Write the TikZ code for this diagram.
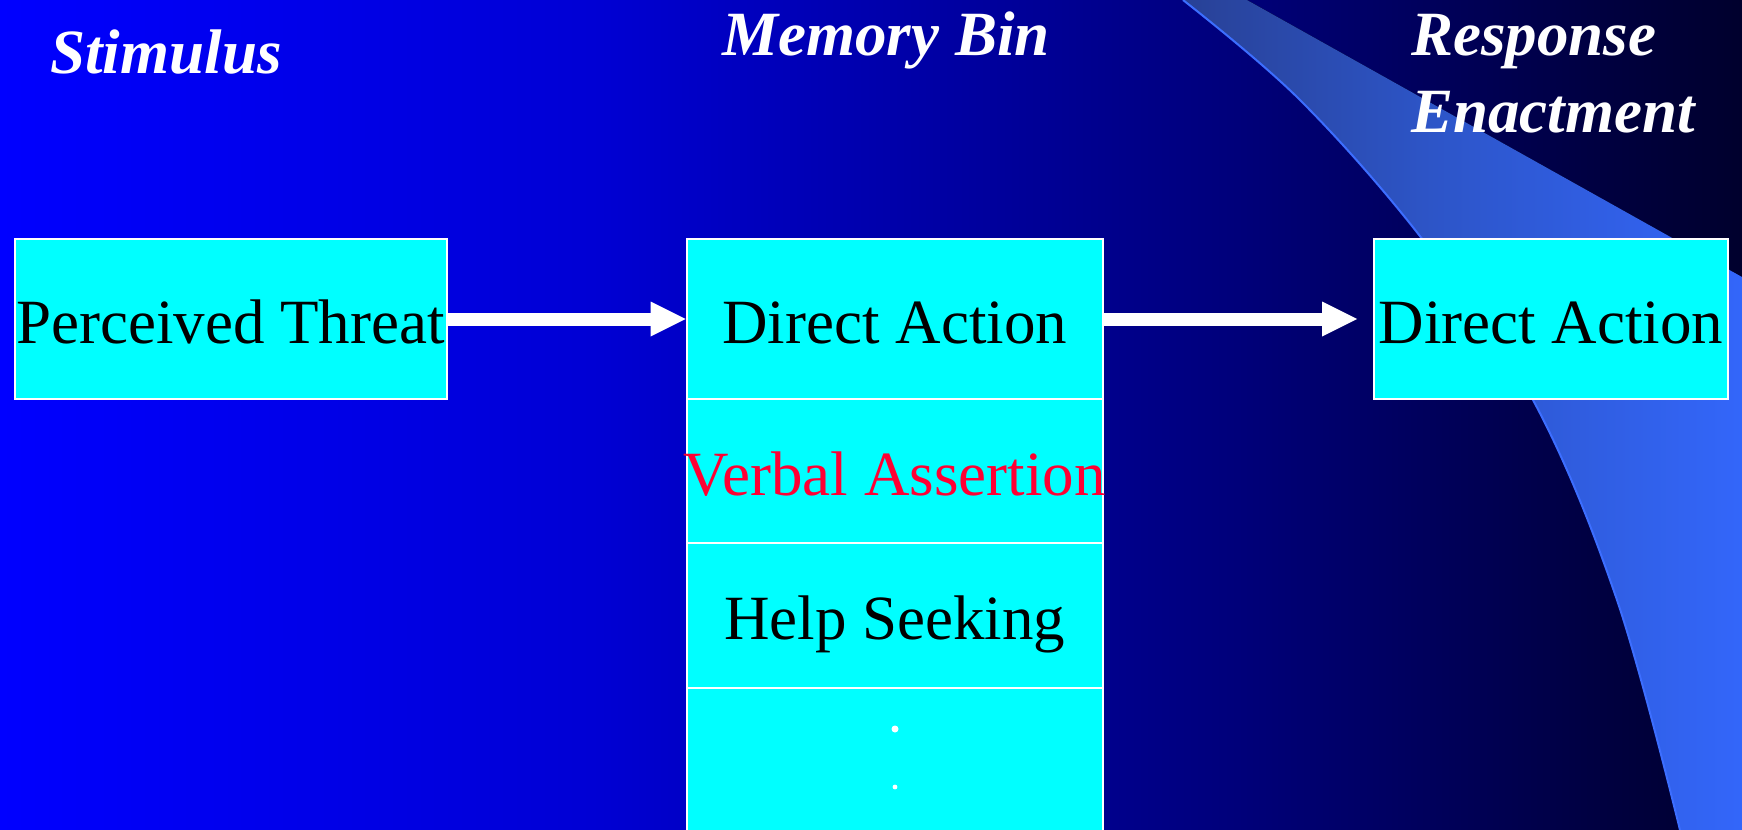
\documentclass[tikz,border=0pt]{standalone}
\usepackage{fontspec}
\setmainfont{Liberation Serif}
\usetikzlibrary{arrows.meta}

% colours
\definecolor{bgA}{RGB}{0,0,255}
\definecolor{bgB}{RGB}{0,0,212}
\definecolor{bgC}{RGB}{0,0,122}
\definecolor{bgD}{RGB}{0,0,64}
\definecolor{bgE}{RGB}{0,0,45}
\definecolor{bandA}{RGB}{40,65,150}
\definecolor{bandB}{RGB}{45,85,200}
\definecolor{bandC}{RGB}{51,102,250}
\definecolor{bandedge}{RGB}{60,110,255}
\definecolor{cellcyan}{RGB}{0,255,255}
\definecolor{alertred}{RGB}{255,0,51}

% horizontal shadings (the 25bp--75bp span covers the filled path)
\pgfdeclarehorizontalshading{slidebg}{100bp}{color(0bp)=(bgA); color(25bp)=(bgA);
  color(42bp)=(bgB); color(60.5bp)=(bgC); color(71bp)=(bgD); color(75bp)=(bgE); color(100bp)=(bgE)}
\pgfdeclarehorizontalshading{swoosh}{100bp}{color(0bp)=(bandA); color(25bp)=(bandA);
  color(47.5bp)=(bandB); color(75bp)=(bandC); color(100bp)=(bandC)}

\newcommand\capfont{\fontsize{31.5pt}{38pt}\selectfont\bfseries\itshape}
\newcommand\cellfont{\fontsize{31.5pt}{38pt}\selectfont}

\begin{document}
\begin{tikzpicture}[x=0.5pt,y=-0.5pt,
  cell/.style={draw=white, line width=1pt, fill=cellcyan, inner sep=0pt,
    text height=24pt, text depth=0pt, font=\cellfont, text=black},
  heading/.style={inner sep=0pt, anchor=base west, text=white, font=\capfont},
  flow/.style={draw=white, line width=6.5pt,
    -{Triangle[length=17.5pt,width=17.5pt,line width=0pt]}},
  dot/.style={circle, fill=white, inner sep=0pt},
]
\useasboundingbox (0,0) rectangle (1742,830);
\clip (0,0) rectangle (1742,830);

% background
\fill[shading=slidebg] (0,0) rectangle (1742,830);

% light swoosh at the right, its inner edge running bottom to top
\fill[shading=swoosh] (1183,0) -- (1247,0) -- (1742,277) -- (1742,830) -- (1680,830)
  -- plot[smooth, tension=0.6] coordinates {(1680,830) (1617,600) (1533,400) (1423,240)
     (1300,100) (1183,0)} -- cycle;
\draw[bandedge, line width=1pt] plot[smooth, tension=0.6] coordinates {(1680,830) (1617,600)
  (1533,400) (1423,240) (1300,100) (1183,0)};

% column headings
\node[heading] (hstim) at (50,73) {Stimulus};
\node[heading] (hmem) at (722,55) {Memory Bin};
\node[heading] (hresp) at (1411,55) {Response};
\node[heading] (henact) at (1411,132) {Enactment};

% stimulus
\node[cell, minimum width=216pt, minimum height=80pt] (threat) at (230.5,319) {Perceived Threat};

% memory bin
\node[cell, minimum width=208.2pt, minimum height=80pt] (m1) at (894.8,319) {Direct Action};
\node[cell, minimum width=208.2pt, minimum height=72pt, text=alertred] (m2) at (894.8,471)
  {\makebox[0pt]{Verbal Assertion}};
\node[cell, minimum width=208.2pt, minimum height=72.5pt] (m3) at (894.8,615.5) {Help Seeking};
\node[cell, minimum width=208.2pt, minimum height=76pt] (m4) at (894.8,764) {};
\node[dot, minimum size=3.5pt] (d1) at (895,729) {};
\node[dot, minimum size=2.4pt] (d2) at (895,787) {};

% response
\node[cell, minimum width=177pt, minimum height=80pt] (resp) at (1551,319) {Direct Action};

% connectors
\draw[flow] (threat.east) -- (m1.west);
\draw[flow, shorten >=8pt] (m1.east) -- (resp.west);
\end{tikzpicture}
\end{document}
